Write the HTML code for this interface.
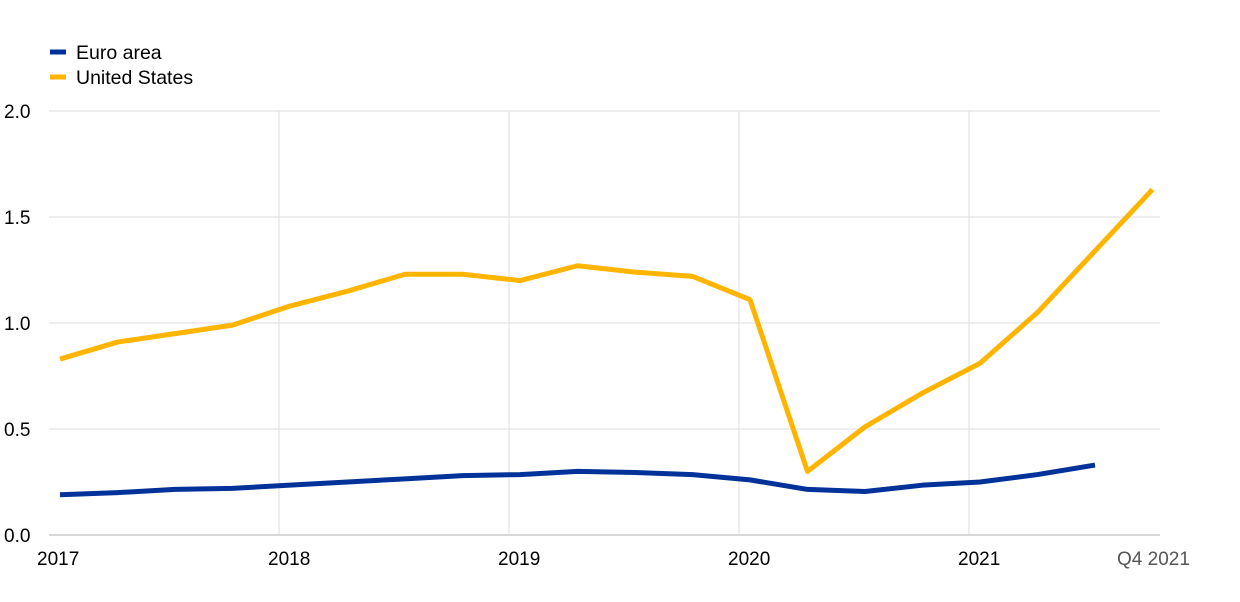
<!DOCTYPE html>
<html><head><meta charset="utf-8"><style>
body{margin:0;background:#fff;font-family:"Liberation Sans",Arial,sans-serif;}
svg text{font-family:"Liberation Sans",Arial,sans-serif;}
</style></head><body>
<svg width="1240" height="597" xmlns="http://www.w3.org/2000/svg">
<g>
<line x1="50" y1="52" x2="66" y2="52" stroke="#003299" stroke-width="5"/>
<text x="76" y="59" font-size="19.5" fill="#000">Euro area</text>
<line x1="50" y1="77" x2="66" y2="77" stroke="#FFB400" stroke-width="5"/>
<text x="76" y="84" font-size="19.5" fill="#000">United States</text>
</g>
<g id="grid"></g>
<g id="axes"></g>
<g id="series"></g>
</svg>
<script>
const quarters = ["Q1 2017","Q2 2017","Q3 2017","Q4 2017","Q1 2018","Q2 2018","Q3 2018","Q4 2018","Q1 2019","Q2 2019","Q3 2019","Q4 2019","Q1 2020","Q2 2020","Q3 2020","Q4 2020","Q1 2021","Q2 2021","Q3 2021","Q4 2021"];
const usValues = [0.83,0.91,0.95,0.99,1.08,1.15,1.23,1.23,1.20,1.27,1.24,1.22,1.11,0.30,0.51,0.67,0.81,1.05,1.34,1.63];
const euroValues = [0.19,0.20,0.215,0.22,0.235,0.25,0.265,0.28,0.285,0.30,0.295,0.285,0.26,0.215,0.205,0.235,0.25,0.285,0.33];
const yTicks = [0,0.5,1.0,1.5,2.0];
const yearLabels = ["2017","2018","2019","2020","2021"];
const ns="http://www.w3.org/2000/svg";
const X0=49, X1=1160, Y0=535, Y1=111;
function x(i){return 60+57.5*i;}
function y(v){return Y0-(v/2)*(Y0-Y1);}
function mk(tag,attrs,parent){const e=document.createElementNS(ns,tag);for(const k in attrs)e.setAttribute(k,attrs[k]);parent.appendChild(e);return e;}
const grid=document.getElementById('grid'), axes=document.getElementById('axes'), series=document.getElementById('series');
yTicks.forEach(t=>{
  const l=mk('line',{x1:X0,x2:X1,y1:y(t),y2:y(t),stroke:t===0?'#b0b0b0':'#dedede','stroke-width':1},grid);
  
  
  const tx=mk('text',{x:4,y:y(t)+7,'font-size':19,fill:'#000'},axes);
  tx.textContent=t.toFixed(1);
  
  
});
yearLabels.forEach((lab,k)=>{
  const gx=X0+230*k;
  if(k>0){const l=mk('line',{x1:gx,x2:gx,y1:Y1,y2:Y0,stroke:'#dedede','stroke-width':1},grid);
  
  }
  const tx=mk('text',{x:gx-(k===0?12:11),y:565,'font-size':19,fill:'#000'},axes);
  tx.textContent=lab;
  
  
});
const ql=mk('text',{x:1117,y:565,'font-size':19,fill:'#555'},axes);
ql.textContent=quarters[quarters.length-1];


function line(vals,color,name){
  const p=mk('polyline',{points:vals.map((v,i)=>x(i)+','+y(v)).join(' '),fill:'none',stroke:color,'stroke-width':5,'stroke-linejoin':'round'},series);
  
  
}
line(usValues,'#FFB400','us-line');
line(euroValues,'#003299','euro-area-line');
</script>
</body></html>
